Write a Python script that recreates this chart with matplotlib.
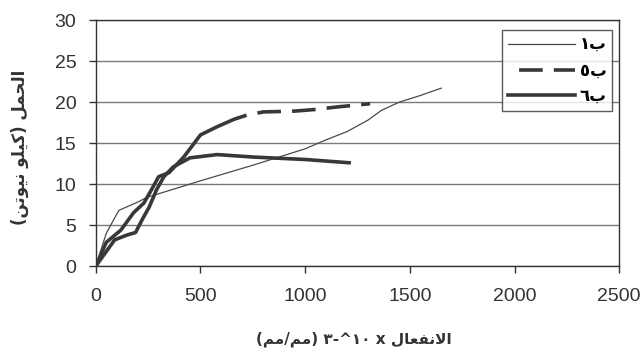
import numpy as np
from matplotlib import pyplot as plt

plt.rcParams['lines.scale_dashes'] = False

# series
x1 = [0, 50, 110, 200, 245, 310, 500, 750, 1000, 1100, 1200, 1300, 1365, 1450, 1550, 1650]
y1 = [0, 4.0, 6.8, 7.8, 8.4, 8.9, 10.4, 12.3, 14.3, 15.4, 16.4, 17.8, 19.0, 20.0, 20.8, 21.7]

x5 = [0, 50, 120, 180, 230, 270, 300, 350, 420, 500, 580, 660, 720, 800, 950, 1050, 1150, 1310]
y5 = [0, 2.9, 4.4, 6.5, 7.7, 9.5, 10.9, 11.4, 13.3, 16.0, 17.0, 17.9, 18.4, 18.8, 18.9, 19.1, 19.4, 19.8]
k5 = 13  # Excel draws the dense part looking solid

x6 = [0, 90, 150, 190, 220, 255, 290, 325, 370, 450, 580, 750, 1000, 1210]
y6 = [0, 3.2, 3.8, 4.1, 5.6, 7.2, 9.3, 10.9, 12.1, 13.2, 13.6, 13.3, 13.0, 12.6]

# Arabic text in visual order with presentation forms (no shaping in matplotlib)
lab1 = '\u0661\uFE8F'
lab5 = '\u0665\uFE8F'
lab6 = '\u0666\uFE8F'
alhaml = '\uFEDE\uFEE4\uFEA4\uFEDF\uFE8D'
kilo = '\uFEEE\uFEE0\uFEF4\uFEDB'
newton = '\uFEE6\uFE97\uFEEE\uFEF4\uFEE7'
ylab = '(' + newton + ' ' + kilo + ') ' + alhaml
infial = '\uFEDD\uFE8E\uFECC\uFED4\uFEE7\uFEFB\uFE8D'
mm = '\uFEE2\uFEE3'
xlab = '(' + mm + '/' + mm + ') \u0663-^\u0661\u0660 x ' + infial

fig = plt.figure(figsize=(6.43, 3.52), dpi=100)
ax = fig.add_axes([0.149, 0.244, 0.814, 0.699])

c = '#383838'
ax.plot(x1, y1, color='#4a4a4a', lw=0.9, label=lab1)
ax.plot(x5[:k5], y5[:k5], color=c, lw=2.6, solid_capstyle='butt')
ax.plot(x5[k5-1:], y5[k5-1:], color=c, lw=2.6, ls=(17, (17, 8)), label=lab5)
ax.plot(x6, y6, color=c, lw=2.6, label=lab6)

ax.set_xlim(0, 2500)
ax.set_ylim(0, 30)
ax.set_xticks(np.arange(0, 2501, 500))
ax.set_yticks(np.arange(0, 31, 5))
ax.yaxis.grid(True, color='#7a7a7a', lw=1.0)
ax.set_axisbelow(True)
for s in ax.spines.values():
    s.set_color('#333333')
    s.set_linewidth(1.0)
ax.tick_params(colors='#333333', labelsize=14, length=5, width=1)
ax.tick_params(axis='x', pad=11)
ax.tick_params(axis='y', pad=9)
for t in ax.get_xticklabels() + ax.get_yticklabels():
    t.set_family('Liberation Sans')

leg = ax.legend(loc='upper right', bbox_to_anchor=(0.987, 0.959), borderaxespad=0,
                frameon=True, fancybox=False, handlelength=4.0,
                prop={'family': 'DejaVu Sans', 'weight': 'bold', 'size': 12},
                labelspacing=0.45, borderpad=0.35, handletextpad=0.3)
leg.get_frame().set_edgecolor('#333333')
leg.get_frame().set_linewidth(1.0)

fig.text(0.031, 0.58, ylab, rotation=90, ha='center', va='center',
         family='DejaVu Sans', weight='bold', fontsize=12, color='#333333')
fig.text(0.55, 0.037, xlab, ha='center', va='center',
         family='DejaVu Sans', weight='bold', fontsize=11, color='#333333')

plt.savefig('out.png', dpi=100)
